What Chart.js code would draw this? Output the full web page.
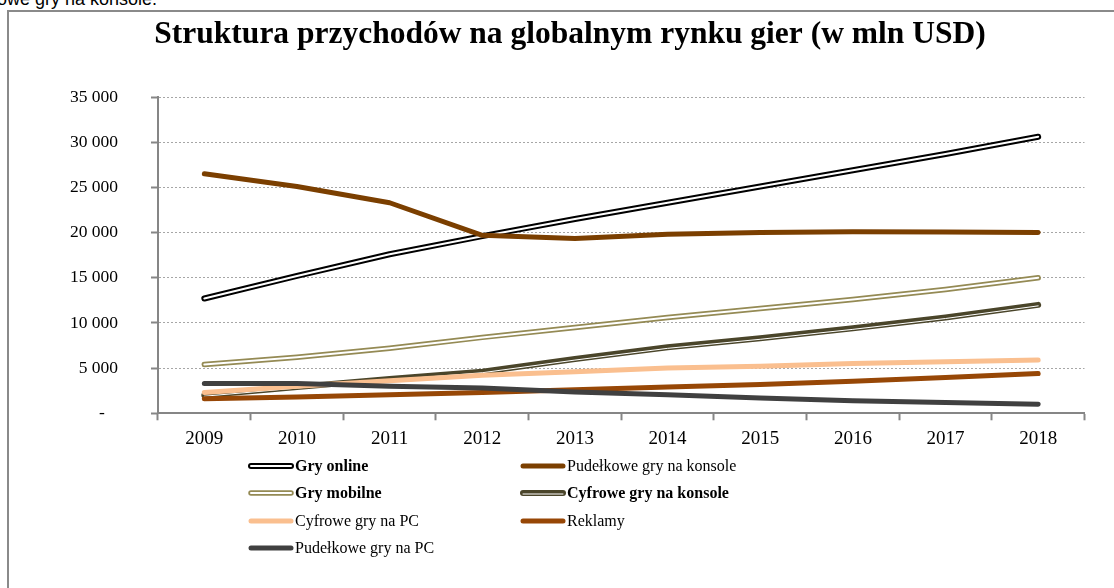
<!DOCTYPE html>
<html><head><meta charset="utf-8">
<script src="https://cdn.jsdelivr.net/npm/chart.js@4.4.0/dist/chart.umd.min.js"></script>
<style>
html,body{margin:0;padding:0;background:#fff;width:1114px;height:588px;overflow:hidden;}
#cap{position:absolute;right:957px;top:-11px;font:18px "Liberation Sans",Arial,sans-serif;white-space:nowrap;color:#000;}
#frame{position:absolute;left:7px;top:10px;width:1200px;height:700px;border-left:2px solid #8a8a8a;border-top:2px solid #8a8a8a;}
#wrap{position:absolute;left:0;top:0;width:1114px;height:588px;}
</style></head><body>
<div id="cap">Pudełkowe gry na konsole.</div>
<div id="frame"></div>
<div id="wrap"><canvas id="c" width="1114" height="588"></canvas></div>
<script>
const chartTitle = 'Struktura przychodów na globalnym rynku gier (w mln USD)';
const years = ['2009','2010','2011','2012','2013','2014','2015','2016','2017','2018'];
const seriesNames = ['Gry online','Pudełkowe gry na konsole','Gry mobilne','Cyfrowe gry na konsole','Cyfrowe gry na PC','Reklamy','Pudełkowe gry na PC'];
const gryOnline        = [12700, 15200, 17600, 19600, 21500, 23300, 25100, 26900, 28700, 30600];
const pudelkoweKonsole = [26500, 25100, 23300, 19700, 19350, 19800, 20000, 20100, 20050, 20000];
const gryMobilne       = [5400, 6200, 7200, 8400, 9500, 10600, 11600, 12600, 13700, 15000];
const cyfroweKonsole   = [2000, 2900, 3800, 4600, 6000, 7300, 8300, 9400, 10600, 12000];
const cyfrowePC        = [2300, 3000, 3600, 4200, 4600, 5000, 5200, 5500, 5700, 5900];
const reklamy          = [1600, 1800, 2050, 2300, 2600, 2900, 3200, 3550, 3950, 4400];
const pudelkowePC      = [3300, 3300, 3000, 2800, 2350, 2050, 1700, 1400, 1200, 1000];
const yTickValues = [0, 5000, 10000, 15000, 20000, 25000, 30000, 35000];

const seriesValues = [gryOnline, pudelkoweKonsole, gryMobilne, cyfroweKonsole, cyfrowePC, reklamy, pudelkowePC];
const styles = [
  {color:'#000000', width:6, inner:'#ffffff', innerWidth:2, innerOffset:0, bold:true},
  {color:'#7b3f00', width:5, bold:false},
  {color:'#948a54', width:5.5, inner:'#ffffff', innerWidth:2, innerOffset:0, bold:true},
  {color:'#4a452a', width:6, inner:'#ffffff', innerWidth:1, innerOffset:1, bold:true},
  {color:'#fabf8f', width:5, bold:false},
  {color:'#974706', width:5, bold:false},
  {color:'#404040', width:5, bold:false}
];
const SERIF = '"Liberation Serif","Times New Roman",serif';

const datasets = seriesNames.map((name, i) => ({
  label: name,
  data: seriesValues[i],
  borderColor: styles[i].color,
  backgroundColor: styles[i].color,
  borderWidth: styles[i].width,
  borderCapStyle: 'round',
  borderJoinStyle: 'round',
  pointRadius: 0,
  pointHoverRadius: 0,
  tension: 0,
  fill: false,
  order: 100 - i,
  innerColor: styles[i].inner,
  innerWidth: styles[i].innerWidth,
  innerOffset: styles[i].innerOffset
}));

function fmt(v){
  if (v === 0) return '-   ';
  return String(v).replace(/\B(?=(\d{3})+(?!\d))/g, ' ');
}

const extras = {
  id: 'extras',
  afterDatasetDraw(chart, args){
    const ds = chart.data.datasets[args.index];
    if (!ds.innerColor) return;
    const pts = args.meta.data;
    const ctx = chart.ctx;
    ctx.save();
    ctx.beginPath();
    pts.forEach((p, k) => { const y = p.y + ds.innerOffset; if (k) ctx.lineTo(p.x, y); else ctx.moveTo(p.x, y); });
    ctx.strokeStyle = ds.innerColor; ctx.lineWidth = ds.innerWidth;
    ctx.lineCap = 'round'; ctx.lineJoin = 'round';
    ctx.stroke();
    ctx.restore();
  },
  afterDraw(chart){
    const ctx = chart.ctx;
    ctx.save();
    ctx.fillStyle = '#000';
    ctx.font = 'bold 31.5px ' + SERIF;
    ctx.textAlign = 'center';
    ctx.textBaseline = 'alphabetic';
    ctx.fillText(chartTitle, 570, 43);
    // legend
    const colX = [251, 523];
    const rowY = [466, 493, 521, 548];
    chart.data.datasets.forEach((ds, i) => {
      const x = colX[i % 2], y = rowY[Math.floor(i / 2)];
      const st = styles[i];
      ctx.beginPath(); ctx.moveTo(x, y); ctx.lineTo(x + 40, y);
      ctx.strokeStyle = st.color; ctx.lineWidth = st.width; ctx.lineCap = 'round'; ctx.stroke();
      if (st.inner){
        ctx.beginPath(); ctx.moveTo(x, y + st.innerOffset); ctx.lineTo(x + 40, y + st.innerOffset);
        ctx.strokeStyle = st.inner; ctx.lineWidth = st.innerWidth; ctx.stroke();
      }
      ctx.fillStyle = '#000';
      ctx.font = (st.bold ? 'bold ' : '') + '16px ' + SERIF;
      ctx.textAlign = 'left'; ctx.textBaseline = 'middle';
      ctx.fillText(ds.label, x + 44, y + 1);
    });
    ctx.restore();
  }
};

new Chart(document.getElementById('c'), {
  type: 'line',
  data: { labels: years, datasets: datasets },
  options: {
    responsive: false,
    animation: false,
    events: [],
    layout: { padding: { top: 97, right: 29.5, left: 0, bottom: 0 } },
    plugins: { legend: { display: false }, title: { display: false }, tooltip: { enabled: false } },
    scales: {
      x: {
        type: 'category',
        offset: true,
        afterFit(s){ s.height = 174.7; },
        grid: { offset: true, drawOnChartArea: false, drawTicks: true, tickLength: 7, tickColor: '#868686', tickWidth: 2, color: '#868686' },
        border: { display: true, color: '#868686', width: 2 },
        ticks: { color: '#000', font: { family: SERIF, size: 19 }, padding: 7, maxRotation: 0, autoSkip: false }
      },
      y: {
        min: 0, max: 35000,
        afterFit(s){ s.width = 158; },
        afterBuildTicks(s){ s.ticks = yTickValues.map(v => ({ value: v })); },
        grid: {
          drawTicks: true, tickLength: 7, tickColor: '#868686', tickWidth: 2,
          color: c => (c.tick && c.tick.value === 0) ? 'rgba(0,0,0,0)' : '#a6a6a6',
          lineWidth: 1
        },
        border: { display: true, color: '#868686', width: 2, dash: [2, 2] },
        ticks: { color: '#000', font: { family: SERIF, size: 17.5 }, padding: 33, callback: v => fmt(v) }
      }
    }
  },
  plugins: [extras]
});
</script>
</body></html>
